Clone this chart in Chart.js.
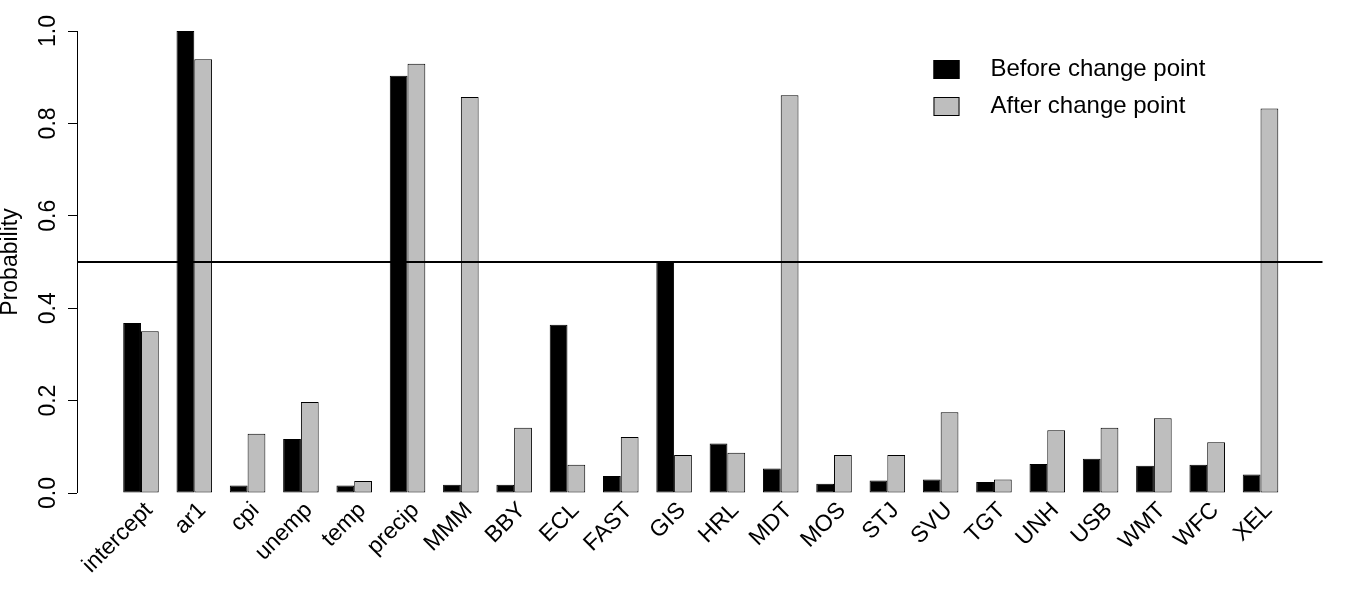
<!DOCTYPE html>
<html>
<head>
<meta charset="utf-8">
<script src="https://cdn.jsdelivr.net/npm/chart.js@4"></script>
<style>
	html, body { margin: 0; padding: 0; background: #fff; }
</style>
</head>
<body>
<canvas id="myChart" width="1362" height="594"></canvas>
<script>
const categories = ['intercept', 'ar1', 'cpi', 'unemp', 'temp', 'precip', 'MMM', 'BBY', 'ECL', 'FAST', 'GIS',
	'HRL', 'MDT', 'MOS', 'STJ', 'SVU', 'TGT', 'UNH', 'USB', 'WMT', 'WFC', 'XEL'];
const before = [0.368, 1.0, 0.016, 0.117, 0.016, 0.903, 0.018, 0.018, 0.364, 0.037, 0.500,
	0.107, 0.053, 0.020, 0.027, 0.029, 0.024, 0.063, 0.074, 0.059, 0.061, 0.040];
const after = [0.350, 0.939, 0.128, 0.197, 0.026, 0.929, 0.857, 0.141, 0.061, 0.121, 0.082,
	0.087, 0.861, 0.082, 0.082, 0.175, 0.029, 0.136, 0.141, 0.162, 0.110, 0.832];
const yTicks = [0, 0.2, 0.4, 0.6, 0.8, 1.0];
const threshold = 0.5;
const seriesNames = ['Before change point', 'After change point'];

const FONT = '"Liberation Sans", Arial, sans-serif';

// R style axis: line only from first to last tick, plus the 0.5 reference line
const rAxis = {
	id: 'rAxis',
	afterDraw(chart) {
		const ctx = chart.ctx;
		const y = chart.scales.y;
		const area = chart.chartArea;
		ctx.save();
		ctx.strokeStyle = '#000';
		ctx.lineWidth = 1;
		ctx.beginPath();
		ctx.moveTo(area.left + 0.5, y.getPixelForValue(yTicks[0]));
		ctx.lineTo(area.left + 0.5, y.getPixelForValue(yTicks[yTicks.length - 1]));
		ctx.stroke();
		ctx.lineWidth = 2;
		ctx.beginPath();
		ctx.moveTo(area.left, y.getPixelForValue(threshold));
		ctx.lineTo(area.right - 2, y.getPixelForValue(threshold));
		ctx.stroke();
		ctx.restore();
	}
};

// legend in the top right of the plot, like legend("topright") in R
const boxLegend = {
	id: 'boxLegend',
	afterDraw(chart) {
		const ctx = chart.ctx;
		const area = chart.chartArea;
		const x0 = area.right - 391;
		let y0 = area.top + 38;
		ctx.save();
		ctx.font = '24px ' + FONT;
		ctx.textBaseline = 'middle';
		ctx.textAlign = 'left';
		chart.data.datasets.forEach(function (ds) {
			ctx.fillStyle = ds.backgroundColor;
			ctx.fillRect(x0, y0 - 9, 26, 19);
			ctx.strokeStyle = '#000';
			ctx.lineWidth = 1;
			ctx.strokeRect(x0 + 0.5, y0 - 8.5, 25, 18);
			ctx.fillStyle = '#000';
			ctx.fillText(ds.label, x0 + 57, y0);
			y0 += 37;
		});
		ctx.restore();
	}
};

const pad = 0.04;

var data = {
	labels: categories,
	datasets: [{
		label: seriesNames[0],
		data: before,
		backgroundColor: '#000000',
		borderColor: '#000000',
		borderWidth: 1,
		borderSkipped: false
	}, {
		label: seriesNames[1],
		data: after,
		backgroundColor: '#bebebe',
		borderColor: '#000000',
		borderWidth: 1,
		borderSkipped: false
	}]
};

var config = {
	type: 'bar',
	data: data,
	options: {
		responsive: false,
		maintainAspectRatio: false,
		animation: false,
		layout: { padding: { top: 31, right: 37.5, left: 0, bottom: 0 } },
		datasets: { bar: { categoryPercentage: 2 / 3, barPercentage: 1 } },
		plugins: {
			legend: { display: false },
			tooltip: { enabled: false }
		},
		scales: {
			x: {
				grid: { display: false, drawTicks: false },
				border: { display: false },
				ticks: {
					autoSkip: false,
					minRotation: 45,
					maxRotation: 45,
					padding: 4,
					labelOffset: 8,
					color: '#000',
					font: { family: FONT, size: 23 }
				},
				afterBuildTicks: function (scale) {
					// spread bars like R's barplot(beside=TRUE) with a 4% margin
					const n = categories.length;
					const lo = -1 / 3, hi = n - 1 + 1 / 3;
					const ext = (hi - lo) * pad;
					scale._startValue = lo - ext;
					scale._valueRange = (hi - lo) + 2 * ext;
				},
				afterFit: function (scale) {
					scale.height = 101;
					scale.paddingLeft = 0;
					scale.paddingRight = 0;
				}
			},
			y: {
				min: 0,
				max: 1,
				grid: { drawOnChartArea: false, drawTicks: true, tickLength: 9, color: '#000', lineWidth: 1 },
				border: { display: false },
				ticks: {
					minRotation: 90,
					maxRotation: 90,
					crossAlign: 'center',
					padding: 3,
					color: '#000',
					font: { family: FONT, size: 23 },
					callback: function (v) { return Number(v).toFixed(1); }
				},
				afterBuildTicks: function (scale) {
					scale.ticks = yTicks.map(v => ({ value: v }));
				},
				title: {
					display: true,
					text: 'Probability',
					color: '#000',
					padding: 0,
					font: { family: FONT, size: 23, lineHeight: 0.9 }
				},
				afterFit: function (scale) {
					scale.width = 77;
					scale.paddingTop = 0;
					scale.paddingBottom = 0;
				}
			}
		}
	},
	plugins: [rAxis, boxLegend]
};

const myChart = new Chart(document.getElementById('myChart').getContext('2d'), config);
</script>
</body>
</html>
